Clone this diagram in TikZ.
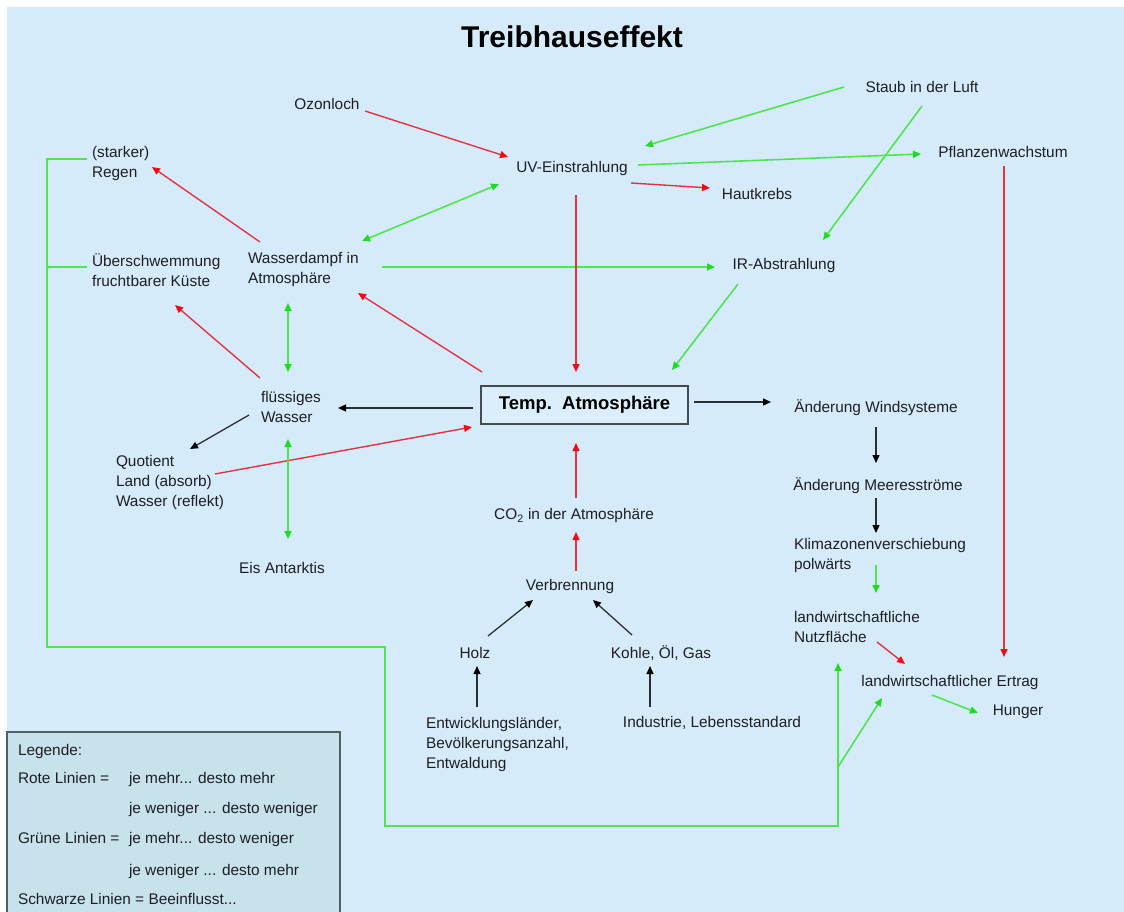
\documentclass[tikz,border=0pt]{standalone}
\usepackage{fontspec}
\setmainfont{Liberation Sans}
\usetikzlibrary{arrows.meta}
\definecolor{bgblue}{RGB}{213,235,250}
\definecolor{legfill}{RGB}{200,226,236}
\definecolor{legdraw}{RGB}{80,95,100}
\definecolor{boxfill}{RGB}{218,238,251}
\definecolor{boxdraw}{RGB}{70,75,80}
\definecolor{rline}{RGB}{228,50,65}
\definecolor{rtip}{RGB}{245,10,20}
\definecolor{gline}{RGB}{80,228,80}
\definecolor{gtip}{RGB}{30,220,30}
\definecolor{kline}{RGB}{45,45,50}
\definecolor{txt}{RGB}{30,30,35}
\begin{document}
\begin{tikzpicture}[x=1pt,y=-1pt,
  every node/.style={inner sep=0pt, outer sep=0pt, text=txt, font=\fontsize{15.4}{20}\selectfont},
  lft/.style={anchor=west, align=left},
  rarr/.style={draw=rline, line width=1.4pt, -{Triangle[length=8pt,width=7pt,color=rtip]}},
  garr/.style={draw=gline, line width=1.6pt, -{Triangle[length=8pt,width=7pt,color=gtip]}},
  gboth/.style={draw=gline, line width=1.6pt, {Triangle[length=8pt,width=7pt,color=gtip]}-{Triangle[length=8pt,width=7pt,color=gtip]}},
  gplain/.style={draw=gline, line width=1.6pt},
  karr/.style={draw=kline, line width=1.3pt, -{Triangle[length=8pt,width=7pt,color=black]}},
  legtxt/.style={anchor=west, text height=11pt, text depth=3.5pt}
]
\useasboundingbox (0,0) rectangle (1124,912);
\fill[white] (0,0) rectangle (1124,912);
\fill[bgblue] (7,7) rectangle (1124,912);

% title
\node[font=\fontsize{30}{34}\selectfont\bfseries, text=black] (title) at (572,37) {Treibhauseffekt};

% nodes
\node (ozon) at (327,104) {Ozonloch};
\node[lft] (regen) at (92,163.5) {(starker)\\Regen};
\node (uv) at (572,169) {UV-Einstrahlung};
\node (staub) at (922,87) {Staub in der Luft};
\node (pflanz) at (1003,152) {Pflanzenwachstum};
\node (haut) at (757,194) {Hautkrebs};
\node[lft] (ueber) at (92,270) {Überschwemmung\\fruchtbarer Küste};
\node[lft] (wdampf) at (248,270) {Wasserdampf in\\Atmosphäre};
\node (ir) at (784,266) {IR-Abstrahlung};
\node[lft] (fl) at (261,407) {flüssiges\\Wasser};
\node[draw=boxdraw, line width=1.2pt, fill=boxfill, minimum width=207pt, minimum height=38pt,
      font=\fontsize{18.5}{22}\selectfont\bfseries, text=black] (temp) at (584.5,405) {Temp.\ \ Atmosphäre};
\node[lft] (quot) at (116,483) {Quotient\\Land (absorb)\\Wasser (reflekt)};
\node (eis) at (282,568) {Eis Antarktis};
\node (wind) at (876,408) {Änderung Windsysteme};
\node (meer) at (878,486) {Änderung Meeresströme};
\node[lft] (klima) at (794,556) {Klimazonenverschiebung\\polwärts};
\node[lft] (nutz) at (794,627) {landwirtschaftliche\\Nutzfläche};
\node (ertrag) at (950,683) {landwirtschaftlicher Ertrag};
\node (hunger) at (1018,712) {Hunger};
\node (co2) at (574,516) {CO\textsubscript{2} in der Atmosphäre};
\node (verbr) at (570,587) {Verbrennung};
\node (holz) at (475,653) {Holz};
\node (kohle) at (661,653) {Kohle, Öl, Gas};
\node[lft] (entw) at (426,744.5) {Entwicklungsländer,\\Bevölkerungsanzahl,\\Entwaldung};
\node (ind) at (712,723) {Industrie, Lebensstandard};

% connectors
\draw[rarr] ([shift={(38,7)}]ozon.center) -- ([shift={(-64,-12)}]uv.center);
\draw[garr] ([shift={(-78,0)}]staub.center) -- ([shift={(73,-23)}]uv.center);
\draw[garr] ([shift={(66,-4)}]uv.center) -- ([shift={(-82,2)}]pflanz.center);
\draw[rarr] ([shift={(59,14)}]uv.center) -- ([shift={(-47,-6)}]haut.center);
\draw[garr] ([shift={(0,19)}]staub.center) -- ([shift={(39,-26)}]ir.center);
\draw[rarr] ([shift={(12,-28)}]wdampf.west) -- ([shift={(60,3.5)}]regen.west);
\draw[gboth] ([shift={(114,-29)}]wdampf.west) -- ([shift={(-73,15)}]uv.center);
\draw[garr] ([shift={(134,-3)}]wdampf.west) -- ([shift={(-69,1)}]ir.center);
\draw[rarr] ([shift={(4,26)}]uv.center) -- ([shift={(-8.5,-33)}]temp.center);
\draw[garr] ([shift={(-46,18)}]ir.center) -- ([shift={(87.5,-35)}]temp.center);
\draw[rarr] ([shift={(1,14)}]pflanz.center) -- ([shift={(54,-26)}]ertrag.center);
\draw[rarr] ([shift={(-102.5,-33)}]temp.center) -- ([shift={(110,23)}]wdampf.west);
\draw[rarr] ([shift={(-1,-29)}]fl.west) -- ([shift={(83,35)}]ueber.west);
\draw[gboth] ([shift={(40,33)}]wdampf.west) -- ([shift={(27,-35)}]fl.west);
\draw[karr] ([shift={(-111.5,3)}]temp.center) -- ([shift={(77,1)}]fl.west);
\draw[karr] ([shift={(-12,8)}]fl.west) -- ([shift={(74,-34)}]quot.west);
\draw[rarr] ([shift={(99,-9)}]quot.west) -- ([shift={(-112.5,22)}]temp.center);
\draw[gboth] ([shift={(27,32)}]fl.west) -- ([shift={(6,-29)}]eis.center);
\draw[karr] ([shift={(109.5,-3)}]temp.center) -- ([shift={(-105,-6)}]wind.center);
\draw[karr] ([shift={(0,19)}]wind.center) -- ([shift={(-2,-23)}]meer.center);
\draw[karr] ([shift={(-2,12)}]meer.center) -- ([shift={(82,-23)}]klima.west);
\draw[garr] ([shift={(82,9)}]klima.west) -- ([shift={(82,-34)}]nutz.west);
\draw[rarr] ([shift={(83,15)}]nutz.west) -- ([shift={(-45,-19)}]ertrag.center);
\draw[garr] ([shift={(-18,12)}]ertrag.center) -- ([shift={(-40,1)}]hunger.center);
\draw[rarr] ([shift={(2,-18)}]co2.center) -- ([shift={(-8.5,38)}]temp.center);
\draw[rarr] ([shift={(6,-16)}]verbr.center) -- ([shift={(2,16)}]co2.center);
\draw[karr] ([shift={(13,-17)}]holz.center) -- ([shift={(-37,13)}]verbr.center);
\draw[karr] ([shift={(-29,-18)}]kohle.center) -- ([shift={(23,13)}]verbr.center);
\draw[karr] ([shift={(51,-37.5)}]entw.west) -- ([shift={(2,13)}]holz.center);
\draw[karr] ([shift={(-62,-16)}]ind.center) -- ([shift={(-11,13)}]kohle.center);

% big green feedback loop
\coordinate (c1) at (47,647);
\coordinate (c2) at (385,826);
\coordinate (c3) at (838,767);
\draw[garr] ([shift={(-5,-4.5)}]regen.west) -| (c1) -| (c2) -| ([shift={(44,36)}]nutz.west);
\draw[gplain] ([shift={(-5,-3)}]ueber.west) -- ([shift={(-45,-3)}]ueber.west);
\draw[garr] (c3) -- ([shift={(-68,15)}]ertrag.center);

% legend
\draw[fill=legfill, draw=legdraw, line width=1.5pt] (7,732) rectangle (340,922);
\node[legtxt] (lg1) at (18,752) {Legende:};
\node[legtxt] (lg2) at (18,780) {Rote Linien =};
\node[legtxt] (lg3) at (129,780) {je mehr... desto mehr};
\node[legtxt] (lg4) at (129,810) {je weniger ... desto weniger};
\node[legtxt] (lg5) at (18,840) {Grüne Linien =};
\node[legtxt] (lg6) at (129,840) {je mehr... desto weniger};
\node[legtxt] (lg7) at (129,872) {je weniger ... desto mehr};
\node[legtxt] (lg8) at (18,901) {Schwarze Linien = Beeinflusst...};
\end{tikzpicture}
\end{document}
